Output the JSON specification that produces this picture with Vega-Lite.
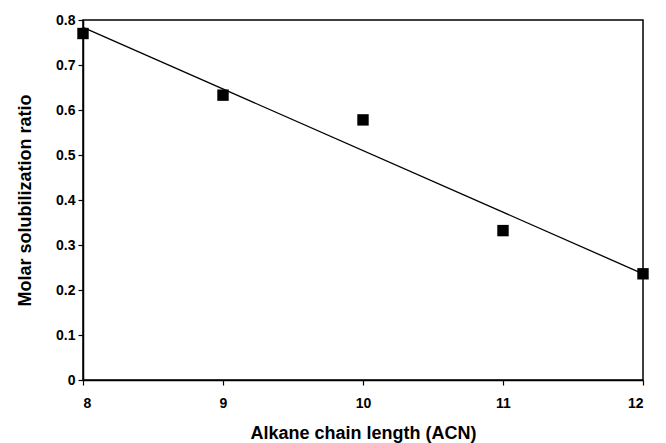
{
  "$schema": "https://vega.github.io/schema/vega-lite/v6.json",
  "autosize": "none",
  "width": 560,
  "height": 360,
  "padding": {"left": 83, "top": 20, "right": 23, "bottom": 63},
  "background": "white",
  "config": {
    "view": {"stroke": "black", "strokeWidth": 1.5},
    "font": "Liberation Sans",
    "axis": {
      "grid": false,
      "domainColor": "black",
      "domainWidth": 1.5,
      "tickColor": "black",
      "tickSize": 5,
      "tickWidth": 1.2,
      "labelFont": "Liberation Sans",
      "labelFontSize": 14,
      "labelFontWeight": "bold",
      "labelColor": "black",
      "titleFont": "Liberation Sans",
      "titleFontSize": 18,
      "titleFontWeight": "bold",
      "titleColor": "black"
    }
  },
  "data": {
    "values": [
      {"acn": 8, "msr": 0.77},
      {"acn": 9, "msr": 0.633},
      {"acn": 10, "msr": 0.578},
      {"acn": 11, "msr": 0.332},
      {"acn": 12, "msr": 0.236}
    ]
  },
  "layer": [
    {
      "transform": [{"regression": "msr", "on": "acn", "extent": [8, 12]}],
      "mark": {"type": "line", "color": "black", "strokeWidth": 1.3},
      "encoding": {
        "x": {"field": "acn", "type": "quantitative"},
        "y": {"field": "msr", "type": "quantitative"}
      }
    },
    {
      "mark": {"type": "point", "shape": "square", "filled": true, "color": "black", "size": 130, "opacity": 1},
      "encoding": {
        "x": {
          "field": "acn", "type": "quantitative",
          "scale": {"domain": [8, 12], "nice": false, "zero": false},
          "axis": {"title": "Alkane chain length (ACN)", "values": [8, 9, 10, 11, 12], "format": "d", "labelPadding": 11, "titlePadding": 14}
        },
        "y": {
          "field": "msr", "type": "quantitative",
          "scale": {"domain": [0, 0.8], "nice": false},
          "axis": {"title": "Molar solubilization ratio", "values": [0, 0.1, 0.2, 0.3, 0.4, 0.5, 0.6, 0.7, 0.8], "format": "~g", "labelPadding": 3, "titlePadding": 21}
        }
      }
    }
  ]
}
